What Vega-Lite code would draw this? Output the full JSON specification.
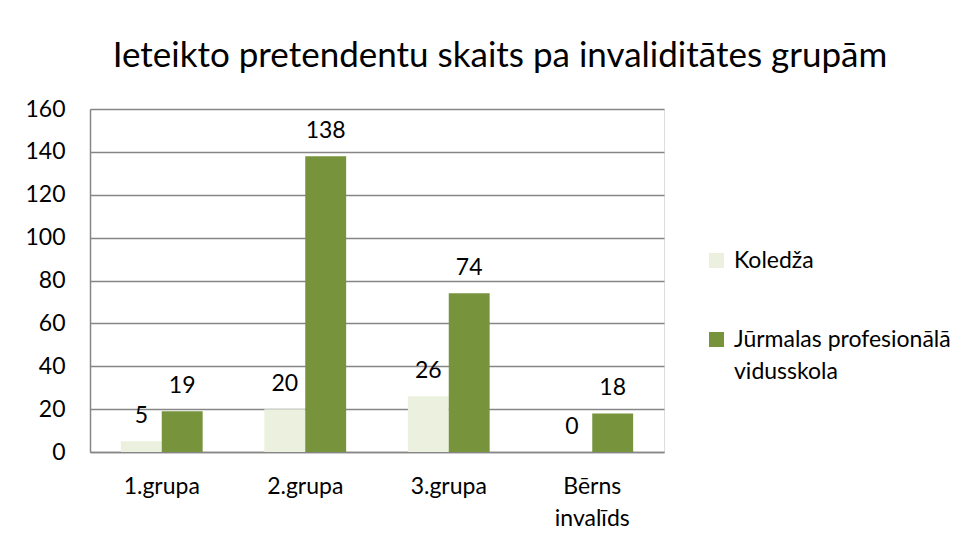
{
  "$schema": "https://vega.github.io/schema/vega-lite/v6.json",
  "width": 574,
  "height": 343,
  "autosize": "none",
  "padding": {"left": 90, "top": 109, "right": 314, "bottom": 97},
  "background": "white",
  "title": {
    "text": "Ieteikto pretendentu skaits pa invaliditātes grupām",
    "font": "Lato",
    "fontSize": 35,
    "fontWeight": "normal",
    "color": "#000000",
    "anchor": "middle",
    "frame": "group",
    "dx": 123,
    "offset": 24
  },
  "config": {
    "style": {"guide-label": {"lineHeight": 32}}
  },
  "data": {
    "values": [
      {"grupa": "1.grupa", "skola": "Koledža", "skaits": 5},
      {"grupa": "1.grupa", "skola": "Jūrmalas profesionālā vidusskola", "skaits": 19},
      {"grupa": "2.grupa", "skola": "Koledža", "skaits": 20},
      {"grupa": "2.grupa", "skola": "Jūrmalas profesionālā vidusskola", "skaits": 138},
      {"grupa": "3.grupa", "skola": "Koledža", "skaits": 26},
      {"grupa": "3.grupa", "skola": "Jūrmalas profesionālā vidusskola", "skaits": 74},
      {"grupa": "Bērns invalīds", "skola": "Koledža", "skaits": 0},
      {"grupa": "Bērns invalīds", "skola": "Jūrmalas profesionālā vidusskola", "skaits": 18}
    ]
  },
  "encoding": {
    "x": {
      "field": "grupa",
      "type": "nominal",
      "sort": ["1.grupa", "2.grupa", "3.grupa", "Bērns invalīds"],
      "scale": {"paddingInner": 0.43, "paddingOuter": 0.215},
      "axis": {
        "title": null,
        "labelAngle": 0,
        "labelFont": "Lato",
        "labelFontSize": 23,
        "labelColor": "#000000",
        "labelPadding": 23,
        "labelLineHeight": 32,
        "labelBaseline": "top",
        "labelExpr": "datum.value == 'Bērns invalīds' ? ['Bērns', 'invalīds'] : datum.value",
        "ticks": false,
        "domainColor": "#868686",
        "domainWidth": 1.5
      }
    },
    "xOffset": {
      "field": "skola",
      "type": "nominal",
      "sort": ["Koledža", "Jūrmalas profesionālā vidusskola"]
    },
    "y": {
      "field": "skaits",
      "type": "quantitative",
      "scale": {"domain": [0, 160], "nice": false},
      "axis": {
        "title": null,
        "values": [0, 20, 40, 60, 80, 100, 120, 140, 160],
        "labelFont": "Lato",
        "labelFontSize": 23,
        "labelColor": "#000000",
        "labelPadding": 25,
        "ticks": false,
        "domainColor": "#868686",
        "domainWidth": 1.5,
        "gridColor": "#868686",
        "gridWidth": 1.5
      }
    }
  },
  "layer": [
    {
      "mark": {"type": "bar"},
      "encoding": {
        "color": {
          "field": "skola",
          "type": "nominal",
          "sort": ["Koledža", "Jūrmalas profesionālā vidusskola"],
          "scale": {
            "domain": ["Koledža", "Jūrmalas profesionālā vidusskola"],
            "range": ["#EBF1DE", "#77933C"]
          },
          "legend": {
            "title": null,
            "orient": "none",
            "legendX": 615,
            "legendY": 140,
            "symbolType": "square",
            "symbolSize": 225,
            "symbolStrokeWidth": 0,
            "labelFont": "Lato",
            "labelFontSize": 23,
            "labelColor": "#000000",
            "labelLimit": 400,
            "labelOffset": 6,
            "rowPadding": 55,
            "labelExpr": "datum.value == 'Jūrmalas profesionālā vidusskola' ? ['Jūrmalas profesionālā', 'vidusskola'] : datum.value"
          }
        }
      }
    },
    {
      "mark": {"type": "text", "baseline": "alphabetic", "dy": -18, "font": "Lato", "fontSize": 23, "color": "#000000"},
      "encoding": {
        "text": {"field": "skaits", "type": "quantitative"}
      }
    }
  ]
}
